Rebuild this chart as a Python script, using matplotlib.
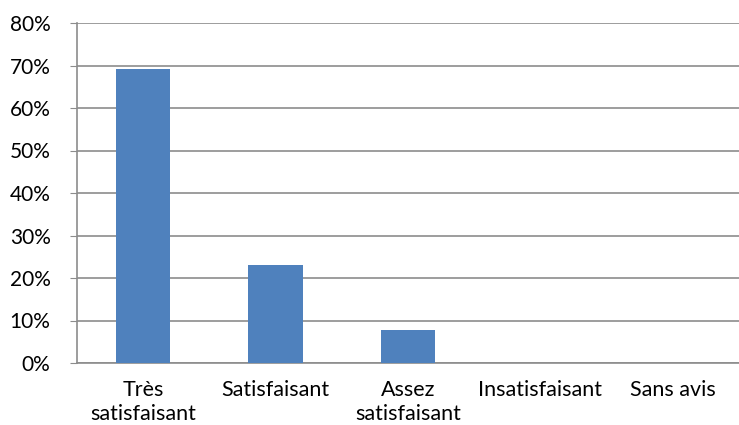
import matplotlib.pyplot as plt
from matplotlib.ticker import PercentFormatter

categories = ['Très\nsatisfaisant', 'Satisfaisant', 'Assez\nsatisfaisant', 'Insatisfaisant', 'Sans avis']
values = [69.2, 23.1, 7.7, 0.0, 0.0]
yticks = [0, 10, 20, 30, 40, 50, 60, 70, 80]

plt.rcParams['font.family'] = ['Lato', 'DejaVu Sans']

fig = plt.figure(figsize=(7.39, 4.25), dpi=100)
ax = fig.add_axes([77/739, 62/425, 662/739, 340/425])

x = range(len(categories))
ax.bar(x, values, width=0.41, color='#4f81bd', zorder=3)

ax.set_xlim(-0.5, len(categories) - 0.5)
ax.set_ylim(0, 80)
ax.set_yticks(yticks)
ax.yaxis.set_major_formatter(PercentFormatter(decimals=0))
ax.set_xticks(list(x))
ax.set_xticklabels(categories, linespacing=1.25)

ax.grid(axis='y', color='#8c8c8c', linewidth=1.2, zorder=0)
for s in ['top', 'right']:
    ax.spines[s].set_visible(False)
for s in ['left', 'bottom']:
    ax.spines[s].set_color('#8c8c8c')
    ax.spines[s].set_linewidth(1.2)

ax.tick_params(axis='y', length=5, color='#8c8c8c', labelsize=15, pad=14)
ax.tick_params(axis='x', length=0, labelsize=15.5, pad=12)

fig.savefig('out.png', dpi=100)
